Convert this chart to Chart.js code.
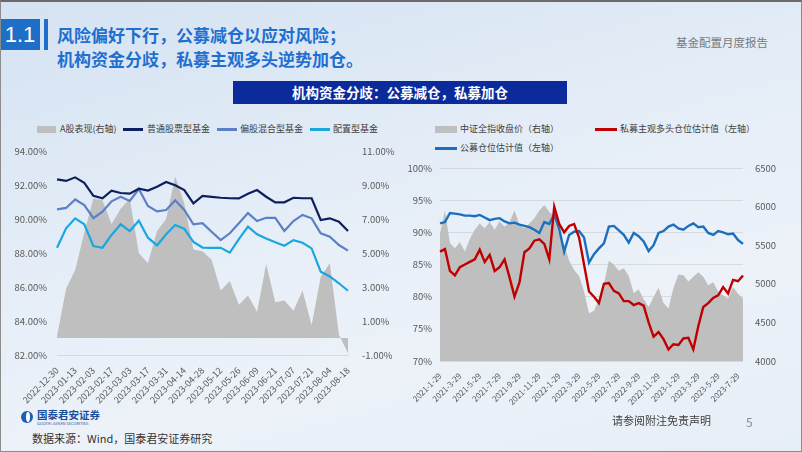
<!DOCTYPE html>
<html lang="zh-CN">
<head>
<meta charset="utf-8">
<title>基金配置月度报告</title>
<script src="https://cdn.jsdelivr.net/npm/chart.js@4.4.1/dist/chart.umd.min.js"></script>
<style>
  html, body { margin: 0; padding: 0; }
  body { width: 802px; height: 452px; overflow: hidden; }
  #slide {
    position: relative; width: 802px; height: 452px; overflow: hidden;
    background: linear-gradient(165deg, #d4e2f2 0%, #e4edf7 40%, #edf2f9 70%, #e6eef7 100%);
    font-family: "Noto Sans CJK SC", "Noto Sans", sans-serif;
  }
  #slide::after {
    content: ""; position: absolute; inset: 0; pointer-events: none;
    border: 1px solid #8c8c8c; border-top: 2px solid #6b6b6b;
  }
  .abs { position: absolute; white-space: nowrap; }
  .num { left: 0; top: 19px; width: 40px; height: 31px; background: #1f6fc8; color: #fff;
         font: 22px "Liberation Sans", Arial, sans-serif; line-height: 31px; text-align: center; }
  .bar { left: 44px; top: 19px; width: 4px; height: 31px; background: #1f6fc8; }
  .title { left: 57px; top: 23px; color: #1f6fd0; font-size: 17px; font-weight: bold; line-height: 24px; }
  .report { left: 676px; top: 34px; color: #7a7a7a; font-size: 11.5px; }
  .sub { left: 233px; top: 81px; width: 334px; height: 23px; background: #0b2b9c; color: #fff;
         font-size: 13.5px; font-weight: bold; line-height: 23px; text-align: center; }
  .lg { font-size: 9px; color: #404040; line-height: 12px; }
  .sw { position: absolute; }
  .wrap { position: absolute; }
  .foot { font-size: 11px; color: #333; }
</style>
</head>
<body>
<div id="slide">
  <div class="abs num">1.1</div>
  <div class="abs bar"></div>
  <div class="abs title">风险偏好下行，公募减仓以应对风险；<br>机构资金分歧，私募主观多头逆势加仓。</div>
  <div class="abs report">基金配置月度报告</div>
  <div class="abs sub">机构资金分歧：公募减仓，私募加仓</div>

  <!-- left legend -->
  <div class="sw" style="left:37px;top:126px;width:19px;height:7px;background:#bfbfbf"></div>
  <div class="abs lg" style="left:60px;top:123px">A股表现(右轴)</div>
  <div class="sw" style="left:123px;top:128px;width:20px;height:3px;background:#0d1f5c"></div>
  <div class="abs lg" style="left:147px;top:123px">普通股票型基金</div>
  <div class="sw" style="left:217px;top:128px;width:20px;height:3px;background:#5b80c8"></div>
  <div class="abs lg" style="left:240px;top:123px">偏股混合型基金</div>
  <div class="sw" style="left:310px;top:128px;width:20px;height:3px;background:#1ba6e0"></div>
  <div class="abs lg" style="left:333px;top:123px">配置型基金</div>

  <!-- right legend -->
  <div class="sw" style="left:435px;top:126px;width:22px;height:7px;background:#bfbfbf"></div>
  <div class="abs lg" style="left:460px;top:123px">中证全指收盘价（右轴）</div>
  <div class="sw" style="left:595px;top:128px;width:22px;height:3px;background:#c00000"></div>
  <div class="abs lg" style="left:620px;top:123px">私募主观多头仓位估计值（左轴）</div>
  <div class="sw" style="left:435px;top:147px;width:22px;height:3px;background:#1b6fc0"></div>
  <div class="abs lg" style="left:460px;top:142px">公募仓位估计值（左轴）</div>

  <div class="wrap" style="left:0;top:140px;width:405px;height:265px"><canvas id="leftChart" width="405" height="265"></canvas></div>
  <div class="wrap" style="left:400px;top:158px;width:402px;height:247px"><canvas id="rightChart" width="402" height="247"></canvas></div>

  <!-- footer -->
  <div class="sw" style="left:21px;top:411px;width:12px;height:12px;border-radius:50%;background:#1b5fb4"></div>
  <div class="sw" style="left:26px;top:412px;width:4px;height:10px;border-radius:50%;background:#fff"></div>
  <div class="abs" style="left:37px;top:409px;font-size:10.5px;font-weight:bold;color:#1b4f9c;line-height:12px">国泰君安证券</div>
  <div class="abs" style="left:37px;top:421px;font-size:4px;color:#1b4f9c;line-height:5px">GUOTAI JUNAN SECURITIES</div>
  <div class="abs foot" style="left:32px;top:430px">数据来源：Wind，国泰君安证券研究</div>
  <div class="abs foot" style="left:612px;top:412px;color:#404040">请参阅附注免责声明</div>
  <div class="abs" style="left:746px;top:413px;font-size:12px;color:#8a8a8a">5</div>
</div>

<script>
// left chart: weekly fund positions vs A-share performance
const weeks = ['2022-12-30','2023-01-06','2023-01-13','2023-01-20','2023-02-03','2023-02-10','2023-02-17','2023-02-24',
  '2023-03-03','2023-03-10','2023-03-17','2023-03-24','2023-03-31','2023-04-07','2023-04-14','2023-04-21','2023-04-28',
  '2023-05-05','2023-05-12','2023-05-19','2023-05-26','2023-06-02','2023-06-09','2023-06-16','2023-06-21','2023-06-30',
  '2023-07-07','2023-07-14','2023-07-21','2023-07-28','2023-08-04','2023-08-11','2023-08-18'];
const aShare = [0.1, 2.9, 4.0, 6.2, 8.2, 8.1, 6.7, 7.6, 8.2, 5.0, 4.4, 6.3, 7.0, 9.5, 7.9, 5.2, 5.1,
  4.6, 2.8, 3.35, 1.95, 2.5, 1.55, 4.35, 2.1, 2.2, 1.6, 2.8, 0.75, 3.6, 4.4, 0.2, -0.9];
const stockFund = [92.33, 92.24, 92.45, 92.13, 91.36, 91.22, 91.67, 91.53, 91.49, 91.78, 91.67, 91.9, 92.18, 91.98, 91.7, 90.92, 91.36,
  91.3, 91.25, 91.22, 91.21, 91.48, 91.7, 91.31, 90.98, 90.98, 91.25, 91.22, 91.22, 89.94, 90.04, 89.84, 89.3];
const mixedFund = [90.57, 90.65, 91.15, 90.82, 90.05, 90.43, 91.04, 91.31, 91.06, 91.76, 90.77, 90.45, 90.53, 91.1, 90.53, 89.69, 89.75,
  89.25, 88.76, 89.16, 89.75, 90.35, 89.88, 90.07, 90.07, 89.3, 89.88, 90.24, 90.04, 89.16, 88.96, 88.47, 88.14];
const allocFund = [88.31, 89.45, 90.04, 89.69, 88.41, 88.31, 89.06, 89.69, 89.29, 89.9, 88.9, 88.45, 89.1, 89.65, 89.42, 88.65, 88.32,
  88.3, 88.3, 88.02, 88.82, 89.55, 89.1, 88.85, 88.63, 88.43, 88.76, 88.6, 88.27, 86.9, 86.62, 86.22, 85.78];

// right chart: semi-monthly positions vs CSI All Share
const dates = ['2021-1-29','2021-2-14','2021-2-28','2021-3-14','2021-3-29','2021-4-14','2021-4-29','2021-5-14','2021-5-29',
  '2021-6-14','2021-6-29','2021-7-14','2021-7-29','2021-8-14','2021-8-29','2021-9-14','2021-9-29','2021-10-14','2021-10-29',
  '2021-11-14','2021-11-29','2021-12-14','2021-12-29','2022-1-14','2022-1-29','2022-2-14','2022-2-28','2022-3-14','2022-3-29',
  '2022-4-14','2022-4-29','2022-5-14','2022-5-29','2022-6-14','2022-6-29','2022-7-14','2022-7-29','2022-8-14','2022-8-29',
  '2022-9-14','2022-9-29','2022-10-14','2022-10-29','2022-11-14','2022-11-29','2022-12-14','2022-12-29','2023-1-14','2023-1-29',
  '2023-2-14','2023-2-28','2023-3-14','2023-3-29','2023-4-14','2023-4-29','2023-5-14','2023-5-29','2023-6-14','2023-6-29',
  '2023-7-14','2023-7-29','2023-8-14'];
const csiAll = [5650, 5950, 5530, 5460, 5540, 5420, 5580, 5700, 5780, 5720, 5800, 5700, 5810, 5740, 5800, 5950, 5760, 5720,
  5780, 5850, 5950, 6020, 5930, 5880, 5650, 5500, 5300, 5180, 5100, 4900, 4620, 4650, 4800, 5000, 5300, 5250, 5170, 5200,
  5100, 4880, 4930, 4800, 4700, 4830, 4950, 4750, 4680, 4950, 5120, 5110, 5030, 5090, 5150, 5090, 4980, 5020, 4900, 4850,
  4810, 4960, 4870, 4810];
const privatePos = [87.0, 87.4, 84.0, 83.3, 84.6, 85.0, 85.4, 85.8, 87.3, 85.4, 86.5, 84.0, 84.6, 85.8, 83.0, 80.0, 82.2, 86.9,
  87.5, 88.7, 88.9, 88.2, 85.8, 94.0, 91.3, 90.0, 91.0, 91.3, 89.2, 85.0, 80.8, 80.0, 79.0, 82.0, 82.1, 80.9, 80.5, 79.3,
  79.3, 78.7, 79.0, 78.6, 76.0, 73.8, 74.5, 73.4, 71.8, 72.6, 72.5, 73.5, 73.6, 71.8, 75.4, 78.4, 79.0, 79.8, 80.2, 81.5,
  80.5, 82.6, 82.4, 83.3];
const publicPos = [91.4, 91.6, 93.0, 92.9, 92.8, 92.6, 92.6, 92.5, 92.7, 92.3, 91.9, 92.1, 92.2, 91.7, 91.4, 91.5, 91.2, 91.0,
  90.8, 90.4, 89.9, 91.6, 91.3, 92.8, 90.5, 87.0, 89.6, 90.1, 90.2, 89.2, 85.3, 86.6, 87.5, 88.3, 90.9, 91.0, 90.3, 89.6,
  88.4, 89.9, 89.4, 88.6, 87.1, 88.0, 89.9, 90.2, 90.9, 91.2, 90.6, 90.4, 91.0, 91.4, 90.8, 90.9, 89.9, 89.6, 90.2, 90.0,
  89.7, 89.8, 88.8, 88.2];

Chart.defaults.font.family = '"Noto Sans CJK SC", "Noto Sans", sans-serif';
Chart.defaults.color = '#595959';
Chart.defaults.animation = false;

const lineSet = (data, color, width, order) => ({
  type: 'line', data: data, borderColor: color, backgroundColor: color, borderWidth: width,
  pointRadius: 0, tension: 0, fill: false, yAxisID: 'y', order: order
});

// fixed axis width, and no extra top/bottom padding from the tick labels
const fixWidth = w => s => { s.width = w; s.paddingTop = 0; s.paddingBottom = 0; };

new Chart(document.getElementById('leftChart').getContext('2d'), {
  type: 'line',
  data: {
    labels: weeks,
    datasets: [
      lineSet(stockFund, '#0d1f5c', 2.2, 0),
      lineSet(mixedFund, '#5b80c8', 2.2, 1),
      lineSet(allocFund, '#1ba6e0', 2.2, 2),
      { data: aShare, yAxisID: 'y1', fill: 'origin', backgroundColor: '#bfbfbf', borderWidth: 0,
        pointRadius: 0, tension: 0, order: 5 }
    ]
  },
  options: {
    responsive: false,
    layout: { padding: { top: 11 } },
    plugins: { legend: { display: false }, tooltip: { enabled: false } },
    scales: {
      x: {
        grid: { display: false }, border: { color: '#d9d9d9' },
        ticks: { autoSkip: false, maxRotation: 45, minRotation: 45, padding: 2, font: { size: 9 },
          callback: function (v, i) { return i % 2 === 0 ? this.getLabelForValue(v) : ''; } },
        afterFit: s => { s.height = 50; }
      },
      y: {
        position: 'left', min: 82, max: 94, grid: { display: false, drawTicks: false }, border: { display: false },
        ticks: { stepSize: 2, padding: 10, font: { size: 9.5 }, callback: v => v.toFixed(2) + '%' },
        afterFit: fixWidth(57)
      },
      y1: {
        position: 'right', min: -1, max: 11, grid: { display: false, drawTicks: false }, border: { display: false },
        ticks: { stepSize: 2, padding: 14, font: { size: 9.5 }, callback: v => v.toFixed(2) + '%' },
        afterFit: fixWidth(57)
      }
    }
  }
});

new Chart(document.getElementById('rightChart').getContext('2d'), {
  type: 'line',
  data: {
    labels: dates,
    datasets: [
      lineSet(privatePos, '#c00000', 2.4, 0),
      lineSet(publicPos, '#1b6fc0', 2.4, 1),
      { data: csiAll, yAxisID: 'y1', fill: 'start', backgroundColor: '#bfbfbf', borderWidth: 0,
        pointRadius: 0, tension: 0, order: 5 }
    ]
  },
  options: {
    responsive: false,
    layout: { padding: { top: 10 } },
    plugins: { legend: { display: false }, tooltip: { enabled: false } },
    scales: {
      x: {
        grid: { display: false }, border: { display: false },
        ticks: { autoSkip: false, maxRotation: 45, minRotation: 45, padding: 2, font: { size: 8 },
          callback: function (v, i) { return i % 4 === 0 ? this.getLabelForValue(v) : ''; } },
        afterFit: s => { s.height = 44; }
      },
      y: {
        position: 'left', min: 70, max: 100,
        grid: { color: 'rgba(190,190,190,0.45)', drawTicks: false }, border: { display: false },
        ticks: { stepSize: 5, padding: 8, font: { size: 9.5 }, callback: v => v + '%' },
        afterFit: fixWidth(40)
      },
      y1: {
        position: 'right', min: 4000, max: 6500, grid: { display: false, drawTicks: false }, border: { display: false },
        ticks: { stepSize: 500, padding: 12, font: { size: 9.5 }, callback: v => String(v) },
        afterFit: fixWidth(59)
      }
    }
  }
});
</script>
</body>
</html>
